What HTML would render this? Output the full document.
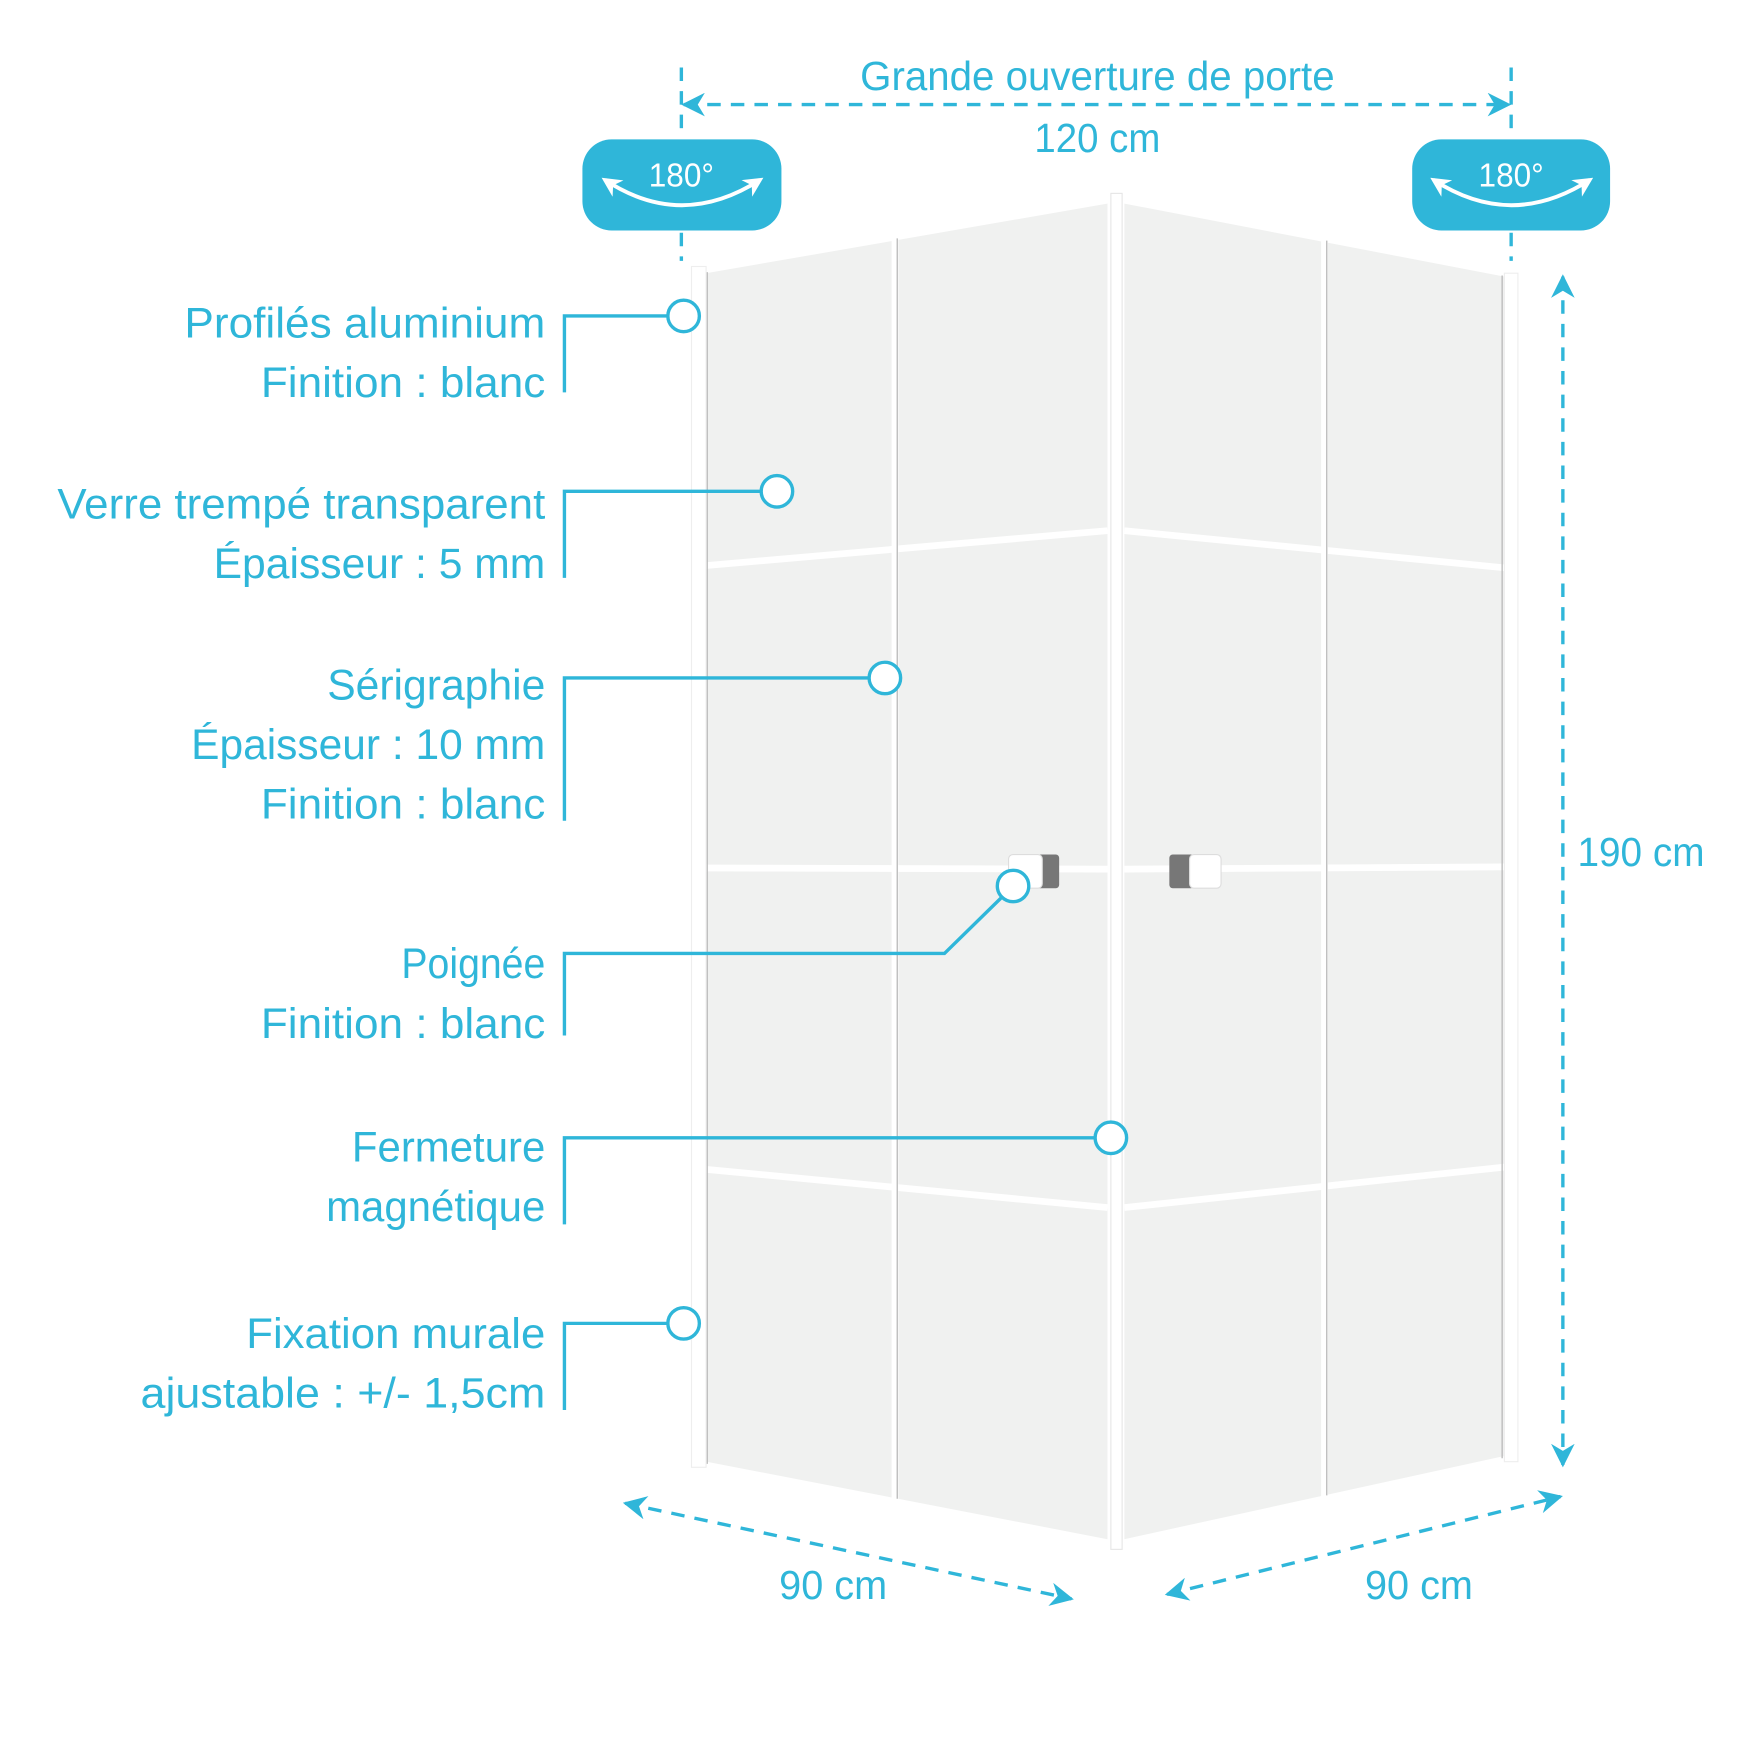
<!DOCTYPE html>
<html><head><meta charset="utf-8"><style>
html,body{margin:0;padding:0;background:#fff}
svg{display:block}
text{font-family:"Liberation Sans",sans-serif;fill:#2fb6d9}
</style></head><body>
<svg width="1763" height="1763" viewBox="0 0 1568 1568" xmlns="http://www.w3.org/2000/svg">
<defs>
<marker id="ah" viewBox="0 0 10 10" refX="9" refY="5" markerWidth="7" markerHeight="7" orient="auto-start-reverse"><path d="M0,0 L10,5 L0,10 L3,5 z" fill="#2fb6d9"/></marker>
<marker id="wh" viewBox="0 0 10 10" refX="8" refY="5" markerWidth="5" markerHeight="5" orient="auto-start-reverse"><path d="M0,0 L10,5 L0,10 L3,5 z" fill="#fff"/></marker>
</defs>
<polygon points="628,240 985,178 985,1372 628,1303" fill="#f0f1f0"/>
<polygon points="1000,178 1338,243 1338,1298 1000,1372" fill="#f0f1f0"/>
<g stroke="#fff" stroke-width="6" fill="none">
<line x1="628" y1="503" x2="985" y2="472"/>
<line x1="628" y1="772" x2="985" y2="773"/>
<line x1="628" y1="1040" x2="985" y2="1074"/>
<line x1="1000" y1="472" x2="1338" y2="505"/>
<line x1="1000" y1="773" x2="1338" y2="771"/>
<line x1="1000" y1="1074" x2="1338" y2="1038"/>
<line x1="796" y1="211" x2="796" y2="1335"/>
<line x1="1178" y1="213" x2="1178" y2="1332"/>
<polyline points="628,240 985,178"/><polyline points="1000,178 1338,243"/>
<polyline points="628,1303 985,1372"/><polyline points="1000,1372 1338,1298"/>
</g>
<g stroke="#bbb" stroke-width="1.2">
<line x1="798" y1="212" x2="798" y2="1333"/><line x1="1180" y1="214" x2="1180" y2="1330"/>
<line x1="629" y1="242" x2="629" y2="1302"/><line x1="1336" y1="245" x2="1336" y2="1297"/>
</g>
<rect x="615" y="237" width="13" height="1068" fill="#fff" stroke="#eee"/>
<rect x="1338" y="243" width="12" height="1057" fill="#fff" stroke="#eee"/>
<rect x="988" y="172" width="10" height="1206" fill="#fff" stroke="#e6e6e6"/>
<rect x="920" y="760" width="22" height="30" rx="3" fill="#777"/>
<rect x="897" y="760" width="30" height="30" rx="4" fill="#fff" stroke="#ddd"/>
<rect x="1040" y="760" width="22" height="30" rx="3" fill="#777"/>
<rect x="1058" y="760" width="28" height="30" rx="4" fill="#fff" stroke="#ddd"/>
<g stroke="#2fb6d9" stroke-width="3" fill="none" stroke-dasharray="12,9">
<line x1="606" y1="60" x2="606" y2="122"/><line x1="606" y1="207" x2="606" y2="232"/>
<line x1="1344" y1="60" x2="1344" y2="122"/><line x1="1344" y1="207" x2="1344" y2="232"/>
<line x1="608" y1="93" x2="1342" y2="93" marker-start="url(#ah)" marker-end="url(#ah)"/>
<line x1="1390" y1="246" x2="1390" y2="1303" marker-start="url(#ah)" marker-end="url(#ah)"/>
<line x1="556" y1="1337" x2="953" y2="1422" marker-start="url(#ah)" marker-end="url(#ah)"/>
<line x1="1038" y1="1418" x2="1388" y2="1331" marker-start="url(#ah)" marker-end="url(#ah)"/>
</g>
<rect x="518" y="124" width="177" height="81" rx="26" fill="#2fb6d9"/>
<rect x="1256" y="124" width="176" height="81" rx="26" fill="#2fb6d9"/>
<path d="M538,160 Q606,205 676,160" stroke="#fff" stroke-width="3.5" fill="none" marker-start="url(#wh)" marker-end="url(#wh)"/>
<path d="M1275,160 Q1344,205 1414,160" stroke="#fff" stroke-width="3.5" fill="none" marker-start="url(#wh)" marker-end="url(#wh)"/>
<text x="606" y="166" font-size="30" text-anchor="middle" style="fill:#fff" textLength="58" lengthAdjust="spacingAndGlyphs">180°</text>
<text x="1344" y="166" font-size="30" text-anchor="middle" style="fill:#fff" textLength="58" lengthAdjust="spacingAndGlyphs">180°</text>
<text x="765" y="80" font-size="36" textLength="422" lengthAdjust="spacingAndGlyphs">Grande ouverture de porte</text>
<text x="920" y="135" font-size="36" textLength="112" lengthAdjust="spacingAndGlyphs">120 cm</text>
<text x="1403" y="770" font-size="36" textLength="113" lengthAdjust="spacingAndGlyphs">190 cm</text>
<text x="693" y="1422" font-size="36" textLength="96" lengthAdjust="spacingAndGlyphs">90 cm</text>
<text x="1214" y="1422" font-size="36" textLength="96" lengthAdjust="spacingAndGlyphs">90 cm</text>
<g stroke="#2fb6d9" stroke-width="3" fill="none">
<polyline points="502,349 502,281 594,281"/>
<polyline points="502,514 502,437 677,437"/>
<polyline points="502,730 502,603 773,603"/>
<polyline points="502,921 502,848 840,848 891,798"/>
<polyline points="502,1089 502,1012 974,1012"/>
<polyline points="502,1254 502,1177 594,1177"/>
</g>
<g stroke="#2fb6d9" stroke-width="3" fill="#fff">
<circle cx="608" cy="281" r="14"/><circle cx="691" cy="437" r="14"/>
<circle cx="787" cy="603" r="14"/><circle cx="901" cy="788" r="14"/>
<circle cx="988" cy="1012" r="14"/><circle cx="608" cy="1177" r="14"/>
</g>
<g font-size="38" text-anchor="end">
<text x="485" y="300" textLength="321" lengthAdjust="spacingAndGlyphs">Profilés aluminium</text>
<text x="485" y="353" textLength="253" lengthAdjust="spacingAndGlyphs">Finition : blanc</text>
<text x="485" y="461" textLength="434" lengthAdjust="spacingAndGlyphs">Verre trempé transparent</text>
<text x="485" y="514" textLength="295" lengthAdjust="spacingAndGlyphs">Épaisseur : 5 mm</text>
<text x="485" y="622" textLength="194" lengthAdjust="spacingAndGlyphs">Sérigraphie</text>
<text x="485" y="675" textLength="315" lengthAdjust="spacingAndGlyphs">Épaisseur : 10 mm</text>
<text x="485" y="728" textLength="253" lengthAdjust="spacingAndGlyphs">Finition : blanc</text>
<text x="485" y="870" textLength="128" lengthAdjust="spacingAndGlyphs">Poignée</text>
<text x="485" y="923" textLength="253" lengthAdjust="spacingAndGlyphs">Finition : blanc</text>
<text x="485" y="1033" textLength="172" lengthAdjust="spacingAndGlyphs">Fermeture</text>
<text x="485" y="1086" textLength="195" lengthAdjust="spacingAndGlyphs">magnétique</text>
<text x="485" y="1199" textLength="266" lengthAdjust="spacingAndGlyphs">Fixation murale</text>
<text x="485" y="1252" textLength="360" lengthAdjust="spacingAndGlyphs">ajustable : +/- 1,5cm</text>
</g>
</svg>
</body></html>
